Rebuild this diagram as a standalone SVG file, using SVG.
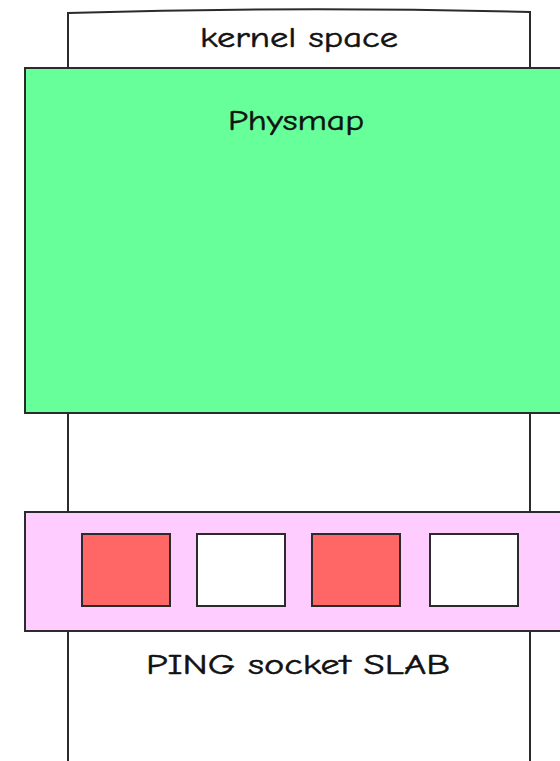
<svg xmlns="http://www.w3.org/2000/svg" width="560" height="761" viewBox="0 0 560 761">
  <style>
    .edge { stroke: #2b2b2b; stroke-width: 2; }
    .label { font-family: "Comic Sans MS", "Comic Neue", "DejaVu Sans", sans-serif; font-size: 29px; fill: #111; stroke: #111; stroke-width: 0.5; text-anchor: middle; }
  </style>
  <rect width="560" height="761" fill="#ffffff"/>

  <!-- kernel space column, open at the bottom -->
  <g id="kernel-space">
    <path d="M68,770 L68,13 Q299,6 530,12 L530,770 Z" fill="#ffffff"/>
    <path class="edge" d="M68,770 L68,13 Q299,6 530,12 L530,770" fill="none"/>
    <text class="label" x="299" y="47" textLength="198" lengthAdjust="spacingAndGlyphs">kernel space</text>
  </g>

  <!-- physmap region -->
  <g id="physmap">
    <rect class="edge" x="25" y="68" width="545" height="345" fill="#66ff99"/>
    <text class="label" x="296" y="130" textLength="136" lengthAdjust="spacingAndGlyphs">Physmap</text>
  </g>

  <!-- PING socket slab -->
  <g id="ping-slab">
    <rect class="edge" x="25" y="512" width="545" height="119" fill="#ffccff"/>
  </g>

  <g id="slot-1"><rect class="edge" x="82" y="534" width="88" height="72" fill="#ff6666"/></g>
  <g id="slot-2"><rect class="edge" x="197" y="534" width="88" height="72" fill="#ffffff"/></g>
  <g id="slot-3"><rect class="edge" x="312" y="534" width="88" height="72" fill="#ff6666"/></g>
  <g id="slot-4"><rect class="edge" x="430" y="534" width="88" height="72" fill="#ffffff"/></g>

  <g id="slab-label">
    <text class="label" x="298" y="674" textLength="304" lengthAdjust="spacingAndGlyphs">PING socket SLAB</text>
  </g>

  <g id="connectors"/>
</svg>
